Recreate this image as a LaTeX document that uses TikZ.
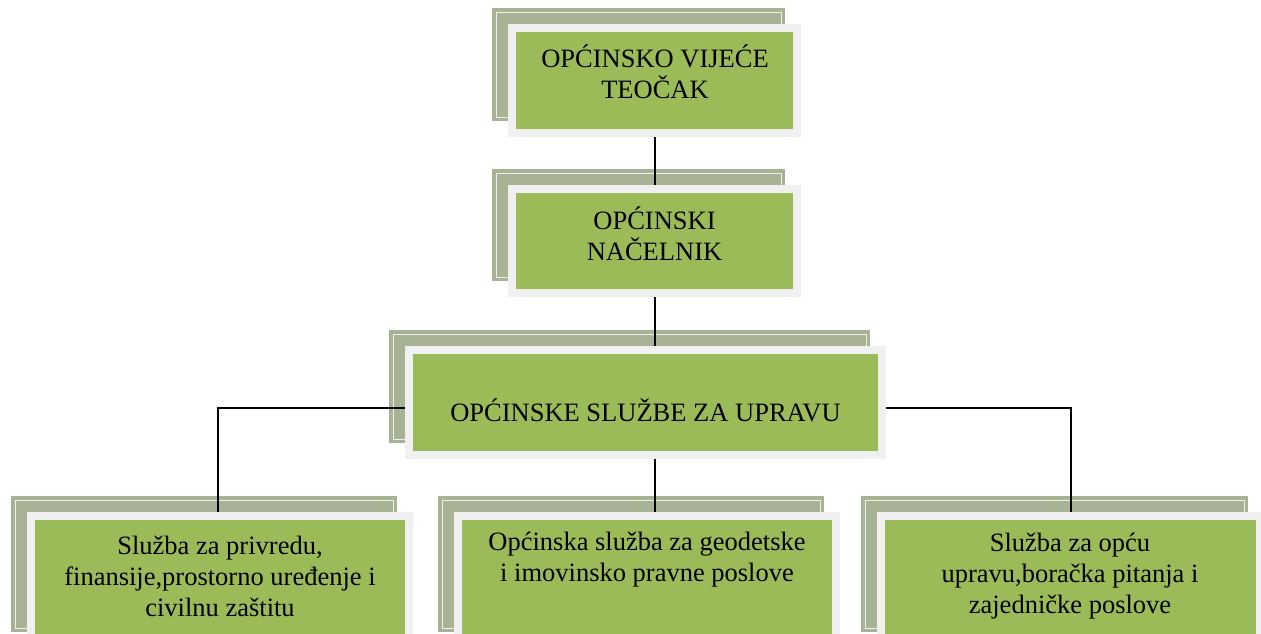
\documentclass[tikz,border=0pt]{standalone}
\usepackage{fontspec}
\setmainfont{Liberation Serif}
\pgfdeclarelayer{backl}
\pgfdeclarelayer{linel}
\pgfdeclarelayer{frontl}
\pgfsetlayers{backl,linel,frontl,main}
\definecolor{backc}{HTML}{A8B295}
\definecolor{framec}{HTML}{F0F0F0}
\definecolor{greenc}{HTML}{9BBB59}
\tikzset{
  gbox/.style={fill=greenc, draw=none, inner sep=0pt, anchor=north west},
  txt/.style={font=\fontsize{26.5}{31}\selectfont, align=center, inner sep=0pt, text=black},
  conn/.style={draw=black, line width=1.8pt},
}
\newcommand{\stackdeco}[1]{%
  \begin{pgfonlayer}{backl}
    \fill[backc] ([shift={(-24pt,8pt)}]#1.south west) rectangle ([shift={(-8pt,24pt)}]#1.north east);
    \draw[white, line width=0.7pt, opacity=0.8] ([shift={(-20pt,12pt)}]#1.south west) rectangle ([shift={(-12pt,20pt)}]#1.north east);
  \end{pgfonlayer}
  \begin{pgfonlayer}{frontl}
    \fill[framec] ([shift={(-8pt,-8pt)}]#1.south west) rectangle ([shift={(8pt,8pt)}]#1.north east);
  \end{pgfonlayer}}
\begin{document}
\begin{tikzpicture}[x=1pt,y=-1pt]
\useasboundingbox (0,0) rectangle (1261,634);
% green boxes
\node[gbox, minimum width=277pt, minimum height=97pt] (A) at (516,32) {};
\node[gbox, minimum width=277pt, minimum height=96pt] (B) at (516,193) {};
\node[gbox, minimum width=465pt, minimum height=97pt] (C) at (413,354) {};
\node[gbox, minimum width=370pt, minimum height=120pt] (D) at (35,520) {};
\node[gbox, minimum width=370pt, minimum height=120pt] (E) at (462,520) {};
\node[gbox, minimum width=371pt, minimum height=120pt] (F) at (885,520) {};
\stackdeco{A}\stackdeco{B}\stackdeco{C}\stackdeco{D}\stackdeco{E}\stackdeco{F}
% texts
\node[txt] (At) at (655,72) {OPĆINSKO VIJEĆE\\TEOČAK};
\node[txt] (Bt) at (654.5,234) {OPĆINSKI\\NAČELNIK};
\node[txt] (Ct) at (645.5,410) {OPĆINSKE SLUŽBE ZA UPRAVU};
\node[txt] (Dt) at (220,576) {Služba za privredu,\\finansije,prostorno uređenje i\\civilnu zaštitu};
\node[txt] (Et) at (647,560) {Općinska služba za geodetske\\i imovinsko pravne poslove};
\node[txt] (Ft) at (1070,576) {Služba za opću\\upravu,boračka pitanja i\\zajedničke poslove};
% connectors
\begin{pgfonlayer}{linel}
\draw[conn] (A.south) -- (A.south |- B.north);
\draw[conn] (B.south) -- (B.south |- C.north);
\draw[conn] ([yshift=-5.5pt]C.west) -| ([xshift=-2pt]D.north);
\draw[conn] ([yshift=-5.5pt]C.east) -| (F.north);
\draw[conn] (C.south -| B.south) -- (B.south |- E.north);
\end{pgfonlayer}
\end{tikzpicture}
\end{document}
